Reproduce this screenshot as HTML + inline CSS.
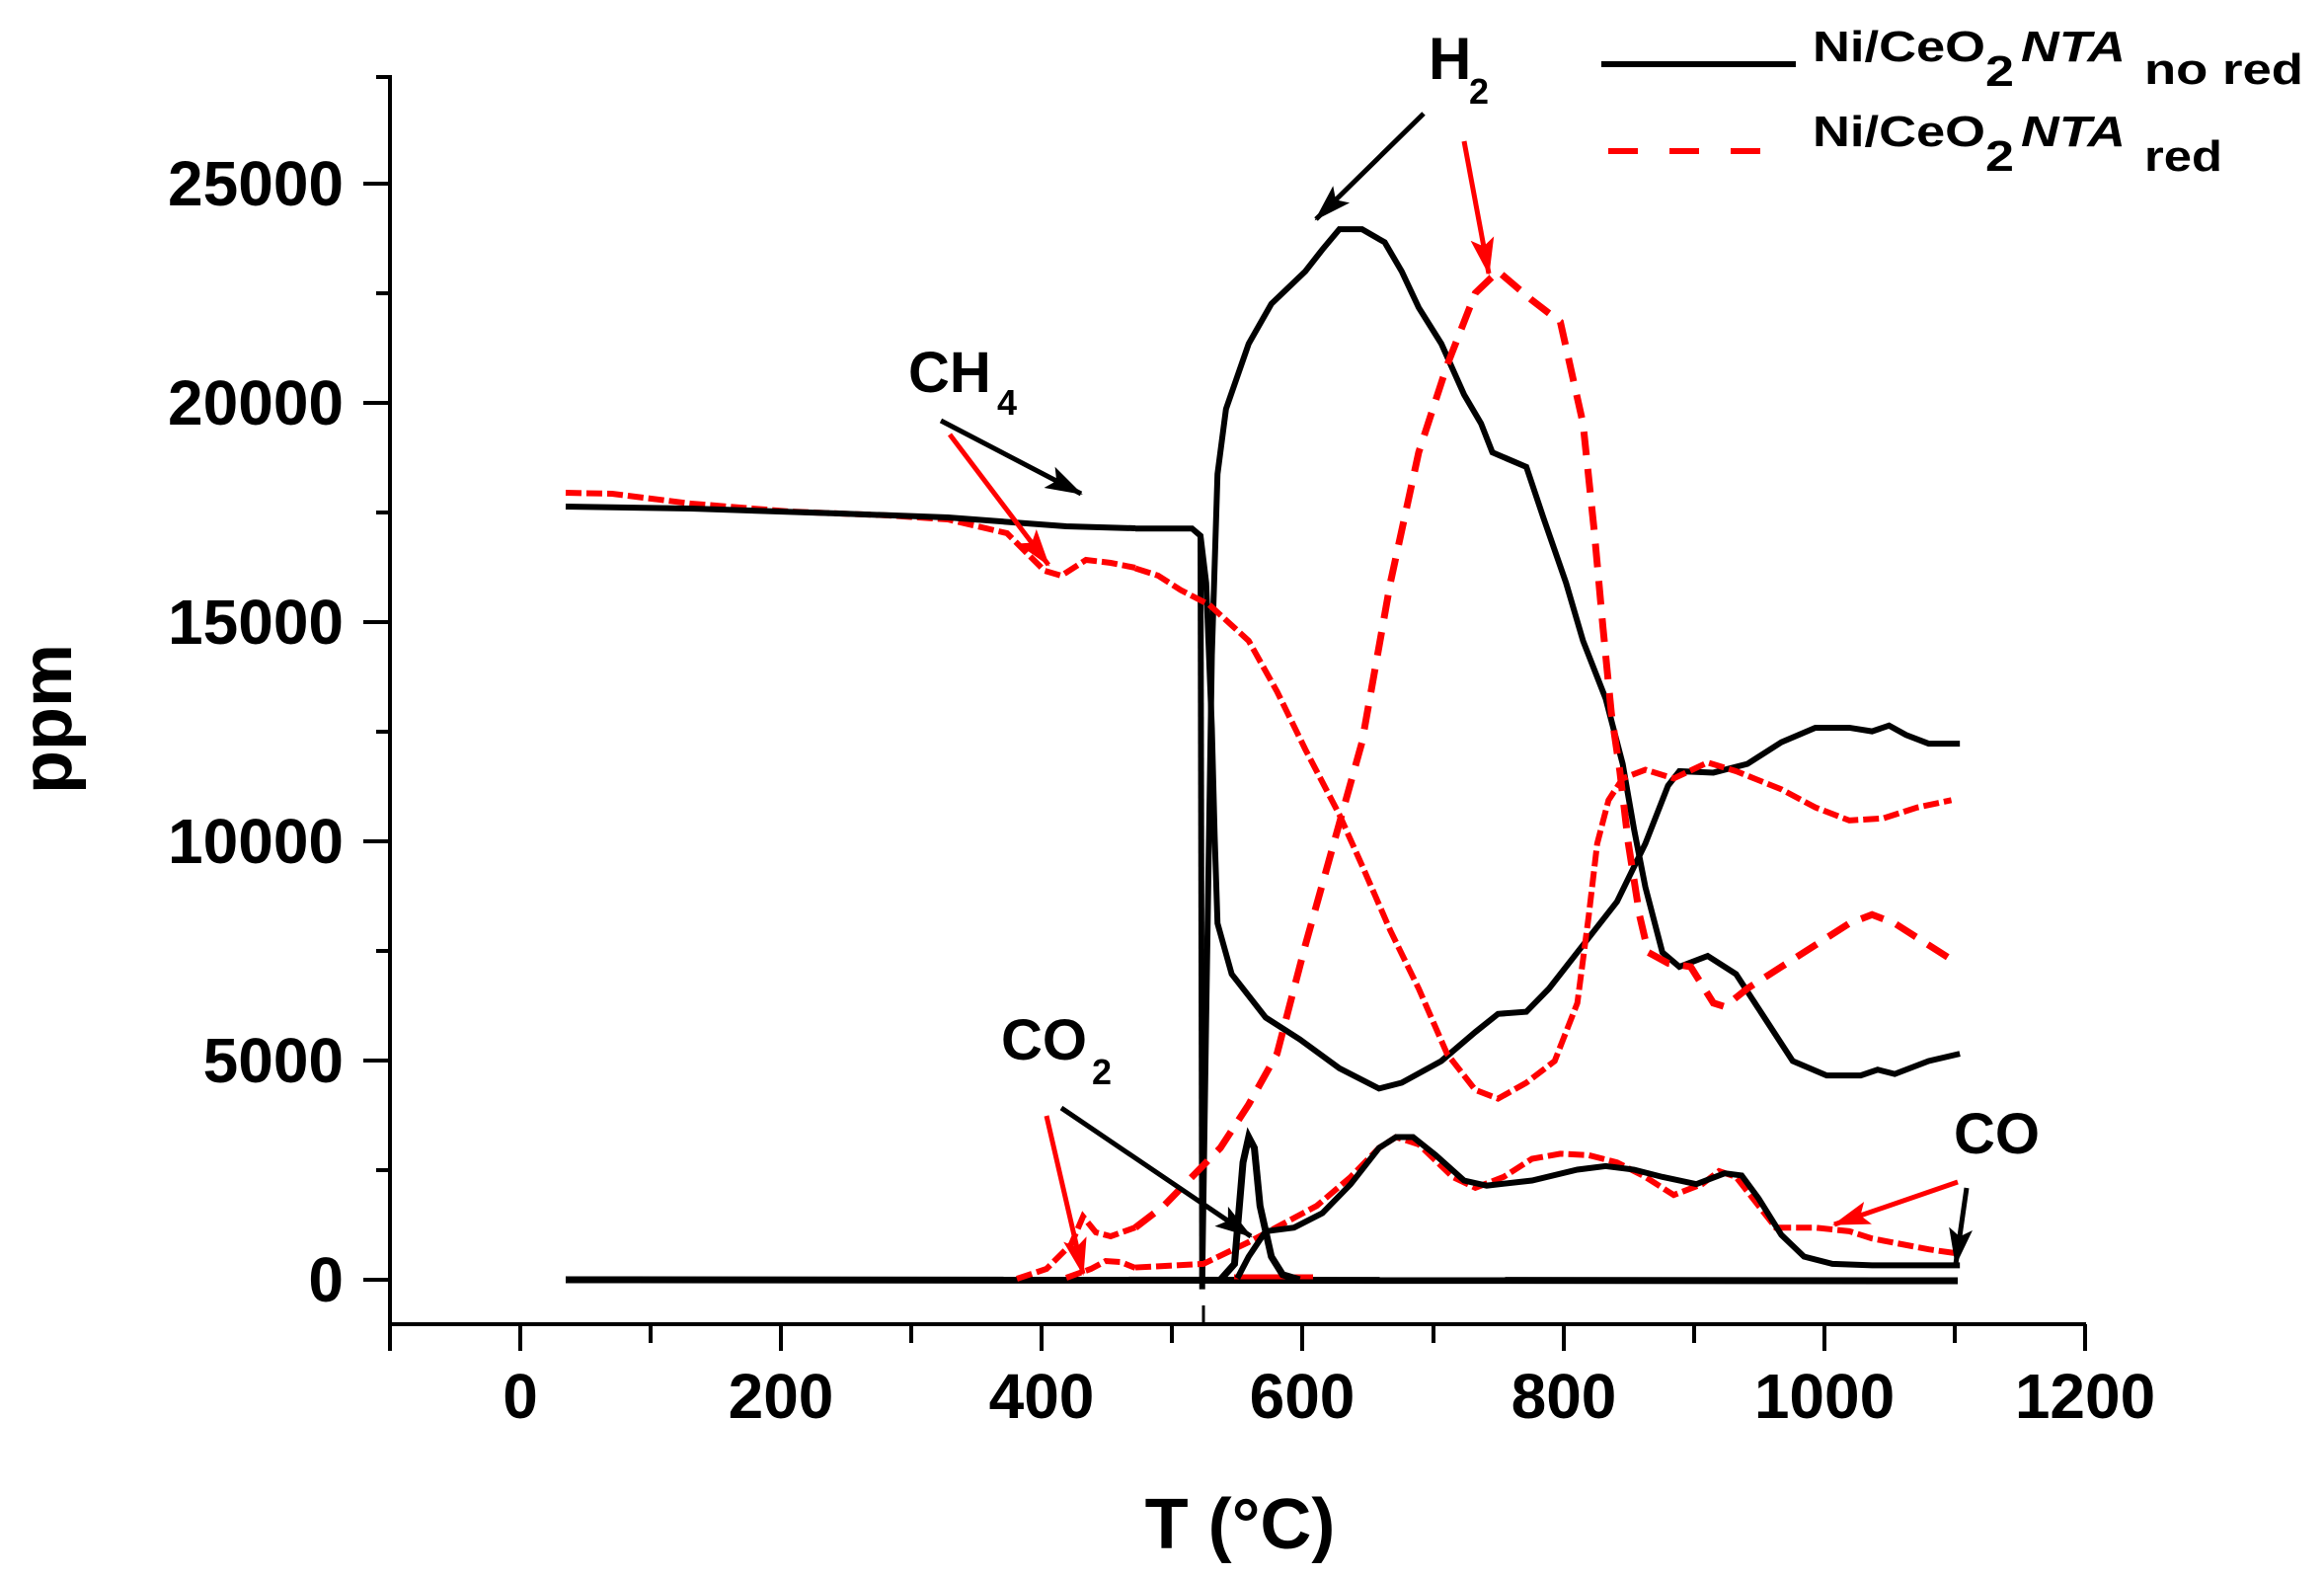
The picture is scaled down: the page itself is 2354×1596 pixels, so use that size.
<!DOCTYPE html>
<html><head><meta charset="utf-8"><style>
html,body{margin:0;padding:0;background:#fff;}
svg{display:block;font-family:"Liberation Sans",Arial,sans-serif;font-weight:bold;}
</style></head><body>
<svg width="2354" height="1596" viewBox="0 0 2354 1596" xmlns="http://www.w3.org/2000/svg">
<defs>
<marker id="ab" markerUnits="userSpaceOnUse" markerWidth="40" markerHeight="30" refX="36" refY="15" orient="auto"><path d="M0,3 L38,15 L0,27 L8,15 Z" fill="#000"/></marker>
<marker id="ar" markerUnits="userSpaceOnUse" markerWidth="40" markerHeight="30" refX="36" refY="15" orient="auto"><path d="M0,3 L38,15 L0,27 L8,15 Z" fill="#f00"/></marker>
</defs>
<g stroke="#000" stroke-width="4" fill="none">
<line x1="395" y1="76" x2="395" y2="1343"/>
<line x1="393" y1="1341" x2="2113" y2="1341"/>
<path d="M368,1296H395M368,1074H395M368,852H395M368,630H395M368,408H395M368,186H395"/>
<path d="M381,1185H395M381,963H395M381,741H395M381,519H395M381,297H395M381,78H395"/>
<path d="M527,1341V1368M791,1341V1368M1055,1341V1368M1319,1341V1368M1584,1341V1368M1848,1341V1368M2112,1341V1368M395,1341V1368"/>
<path d="M659,1341V1360M923,1341V1360M1187,1341V1360M1452,1341V1360M1716,1341V1360M1980,1341V1360"/>
<line x1="1219" y1="1322" x2="1219" y2="1341" stroke-width="3"/>
</g>
<g font-size="64" text-anchor="end" fill="#000">
<text x="348" y="208">25000</text>
<text x="348" y="430">20000</text>
<text x="348" y="652">15000</text>
<text x="348" y="874">10000</text>
<text x="348" y="1096">5000</text>
<text x="348" y="1318">0</text>
</g>
<g font-size="64" text-anchor="middle" fill="#000">
<text x="527" y="1436">0</text>
<text x="791" y="1436">200</text>
<text x="1055" y="1436">400</text>
<text x="1319" y="1436">600</text>
<text x="1584" y="1436">800</text>
<text x="1848" y="1436">1000</text>
<text x="2112" y="1436">1200</text>
</g>
<text x="1256" y="1568" font-size="72" text-anchor="middle">T (°C)</text>
<text transform="translate(72,728) rotate(-90)" font-size="72" text-anchor="middle">ppm</text>

<line x1="573" y1="1296" x2="1983" y2="1297" stroke="#000" stroke-width="7"/>
<line x1="1250" y1="1293" x2="1330" y2="1293" stroke="#f00" stroke-width="5"/>

<polyline fill="none" stroke="#f00" stroke-width="6" stroke-dasharray="16,5" points="573,499 620,500 700,510 800,518 900,522 960,526 1020,540 1058,578 1075,583 1100,567 1125,570 1150,575"/>
<polyline fill="none" stroke="#000" stroke-width="6" points="573,513 700,515 850,520 960,524 1080,533 1150,535"/>
<polyline fill="none" stroke="#f00" stroke-width="6" stroke-dasharray="16,5" points="1030,1295 1060,1285 1085,1260 1097,1232 1110,1248 1125,1252 1150,1243"/>
<polyline fill="none" stroke="#f00" stroke-width="6" stroke-dasharray="16,5" points="1080,1294 1105,1285 1120,1277 1135,1278 1150,1284"/>

<g transform="translate(1150,150) scale(0.574,0.7337)" fill="none" stroke-width="6">
<polyline vector-effect="non-scaling-stroke" stroke="#000" points="118,1562 125,1200 135,700 145,450 160,360 200,270 240,215 300,170 330,140 360,112 400,112 440,130 470,170 500,220 540,270 580,340 610,380 630,420 690,440 720,510 760,600 790,680 830,760 860,850 880,940 900,1020 930,1110 960,1130 1010,1115 1060,1140 1110,1200 1160,1260 1220,1280 1280,1280 1310,1272 1340,1278 1400,1260 1455,1250"/>
<polyline vector-effect="non-scaling-stroke" stroke="#000" points="0,525 100,525 115,535 125,600 135,800 140,950 145,1070 170,1140 230,1200 290,1230 360,1270 430,1298 470,1290 540,1260 600,1220 640,1195 690,1192 730,1160 790,1100 850,1040 900,960 940,880 960,860 1020,862 1080,850 1140,820 1200,800 1260,800 1300,805 1330,797 1360,810 1400,822 1455,822"/>
<polyline vector-effect="non-scaling-stroke" stroke="#000" points="115,535 118,1575"/>
<polyline vector-effect="non-scaling-stroke" stroke="#f00" stroke-dasharray="16,5" points="0,580 40,590 80,610 130,630 200,680 250,750 300,830 360,920 400,990 450,1080 500,1160 550,1250 600,1300 640,1312 690,1290 740,1260 780,1180 800,1060 815,960 835,900 860,870 900,858 950,870 1010,848 1060,860 1140,885 1200,910 1260,928 1320,925 1380,910 1440,900"/>
<polyline vector-effect="non-scaling-stroke" stroke="#f00" stroke-width="7" stroke-dasharray="24,14" points="0,1490 50,1460 100,1420 150,1380 200,1320 250,1250 300,1100 350,960 400,820 450,600 500,420 550,300 600,200 640,170 700,210 750,240 790,380 810,530 825,660 840,780 855,860 870,960 890,1060 905,1110 940,1125 980,1130 1020,1180 1040,1185 1080,1160 1140,1130 1200,1100 1260,1070 1300,1058 1340,1070 1400,1100 1440,1120"/>
<polyline vector-effect="non-scaling-stroke" stroke="#f00" stroke-dasharray="16,5" points="0,1545 120,1540 200,1510 260,1485 320,1460 380,1420 430,1380 460,1365 500,1375 560,1420 600,1435 650,1420 700,1395 750,1388 800,1390 850,1400 900,1420 950,1445 1000,1430 1030,1412 1060,1420 1100,1460 1130,1490 1200,1490 1260,1495 1300,1505 1400,1520 1445,1525"/>
<polyline vector-effect="non-scaling-stroke" stroke="#000" points="180,1560 200,1530 230,1495 280,1490 330,1470 380,1430 430,1380 460,1365 490,1365 530,1390 580,1425 620,1432 700,1425 780,1410 830,1405 880,1410 930,1420 990,1430 1040,1415 1070,1418 1100,1450 1140,1500 1180,1530 1230,1540 1300,1542 1455,1542"/>
<polyline vector-effect="non-scaling-stroke" stroke="#000" stroke-width="7" points="150,1562 175,1540 190,1400 200,1365 210,1380 220,1460 240,1530 260,1555 290,1562"/>
</g>

<text x="1447" y="80" font-size="60">H</text><text x="1488" y="105" font-size="36">2</text>
<line x1="1442" y1="115" x2="1333" y2="222" stroke="#000" stroke-width="5" marker-end="url(#ab)"/>
<line x1="1483" y1="143" x2="1508" y2="277" stroke="#f00" stroke-width="5" marker-end="url(#ar)"/>

<text x="920" y="397" font-size="58">CH</text><text x="1010" y="420" font-size="36">4</text>
<line x1="953" y1="426" x2="1095" y2="500" stroke="#000" stroke-width="5" marker-end="url(#ab)"/>
<line x1="962" y1="440" x2="1062" y2="572" stroke="#f00" stroke-width="5" marker-end="url(#ar)"/>

<text x="1014" y="1073" font-size="58">CO</text><text x="1106" y="1098" font-size="36">2</text>
<line x1="1075" y1="1122" x2="1267" y2="1252" stroke="#000" stroke-width="5" marker-end="url(#ab)"/>
<line x1="1060" y1="1130" x2="1097" y2="1290" stroke="#f00" stroke-width="5" marker-end="url(#ar)"/>

<text x="1979" y="1168" font-size="58">CO</text>
<line x1="1983" y1="1197" x2="1858" y2="1240" stroke="#f00" stroke-width="5" marker-end="url(#ar)"/>
<line x1="1992" y1="1203" x2="1981" y2="1280" stroke="#000" stroke-width="5" marker-end="url(#ab)"/>

<line x1="1622" y1="65" x2="1819" y2="65" stroke="#000" stroke-width="6"/>
<line x1="1629" y1="153" x2="1785" y2="153" stroke="#f00" stroke-width="6" stroke-dasharray="30,32"/>
<g font-size="44">
<text x="1836" y="62" textLength="175" lengthAdjust="spacingAndGlyphs">Ni/CeO</text>
<text x="2011" y="87" textLength="29" lengthAdjust="spacingAndGlyphs">2</text>
<text x="2047" y="62" font-style="italic" textLength="106" lengthAdjust="spacingAndGlyphs">NTA</text>
<text x="2172" y="85" textLength="161" lengthAdjust="spacingAndGlyphs">no red</text>
<text x="1836" y="148" textLength="175" lengthAdjust="spacingAndGlyphs">Ni/CeO</text>
<text x="2011" y="173" textLength="29" lengthAdjust="spacingAndGlyphs">2</text>
<text x="2047" y="148" font-style="italic" textLength="106" lengthAdjust="spacingAndGlyphs">NTA</text>
<text x="2172" y="173" textLength="79" lengthAdjust="spacingAndGlyphs">red</text>
</g>
</svg>
</body></html>
